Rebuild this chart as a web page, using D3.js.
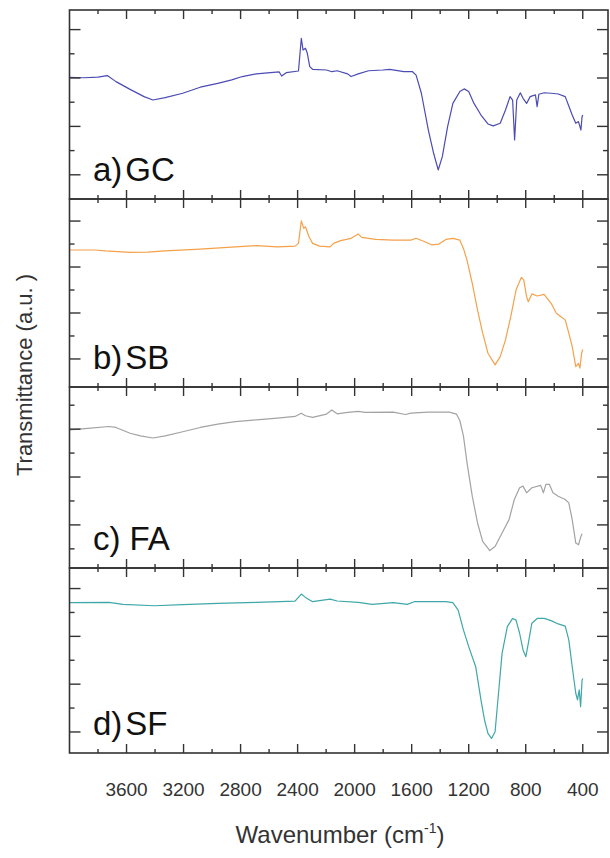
<!DOCTYPE html>
<html>
<head>
<meta charset="utf-8">
<script src="https://cdn.jsdelivr.net/npm/d3@7"></script>
<style>
  body { margin: 0; background: #fff; }
  svg { display: block; font-family: "Liberation Sans", Arial, sans-serif; }
</style>
</head>
<body>
<script>
// x axis
const xTickValues = [3600, 3200, 2800, 2400, 2000, 1600, 1200, 800, 400];
const xMinorValues = [3800, 3400, 3000, 2600, 2200, 1800, 1400, 1000, 600];

// panel labels
const panelLetters = ["a)", "b)", "c)", "d)"];
const sampleNames = ["GC", "SB", "FA", "SF"];

// a) GC
const gcWavenumber = [4000, 3900, 3800, 3735, 3674, 3575, 3477, 3415, 3329, 3206, 3083, 2960, 2862, 2788, 2689, 2591, 2529, 2512, 2480, 2394, 2374, 2362, 2345, 2332, 2315, 2295, 2197, 2160, 2123, 2049, 2025, 1975, 1902, 1803, 1754, 1655, 1594, 1569, 1532, 1483, 1446, 1414, 1385, 1348, 1311, 1262, 1232, 1200, 1163, 1114, 1065, 1028, 979, 942, 910, 892, 878, 863, 838, 819, 794, 769, 732, 720, 708, 671, 622, 572, 523, 498, 474, 449, 430, 413, 405, 400];
const gcT = [5.03, 5.01, 5.04, 5.10, 4.85, 4.53, 4.23, 4.09, 4.19, 4.37, 4.62, 4.78, 4.92, 5.06, 5.17, 5.22, 5.25, 5.08, 5.22, 5.29, 6.64, 6.16, 6.23, 6.02, 5.47, 5.36, 5.33, 5.26, 5.30, 5.17, 5.06, 5.17, 5.30, 5.33, 5.36, 5.26, 5.26, 5.12, 4.37, 2.85, 1.89, 1.20, 1.75, 2.99, 3.95, 4.44, 4.55, 4.44, 3.95, 3.47, 3.10, 3.02, 3.13, 3.68, 4.23, 4.09, 2.44, 4.09, 4.39, 4.16, 3.95, 4.23, 4.30, 3.82, 4.33, 4.39, 4.37, 4.34, 4.23, 3.84, 3.47, 3.13, 3.20, 2.85, 3.40, 3.47];

// b) SB
const sbWavenumber = [4000, 3822, 3748, 3575, 3452, 3329, 3083, 2837, 2689, 2542, 2418, 2394, 2374, 2357, 2345, 2320, 2295, 2246, 2172, 2148, 2098, 2025, 1975, 1951, 1852, 1729, 1606, 1569, 1508, 1458, 1409, 1360, 1311, 1262, 1237, 1212, 1175, 1138, 1102, 1065, 1015, 979, 942, 905, 868, 831, 814, 794, 782, 757, 720, 671, 622, 585, 560, 523, 498, 474, 449, 430, 420, 408, 400];
const sbT = [5.74, 5.74, 5.70, 5.64, 5.65, 5.70, 5.78, 5.88, 5.93, 5.88, 5.91, 6.03, 7.01, 6.68, 6.75, 6.32, 6.03, 5.91, 5.88, 6.03, 6.15, 6.25, 6.44, 6.29, 6.20, 6.17, 6.17, 6.25, 6.10, 5.96, 6.00, 6.20, 6.25, 6.17, 5.81, 5.30, 4.29, 3.13, 2.12, 1.25, 0.74, 1.10, 1.83, 2.84, 4.00, 4.55, 4.44, 3.71, 3.49, 3.83, 3.74, 3.81, 3.42, 2.99, 2.87, 2.70, 2.12, 1.54, 0.67, 0.81, 0.60, 1.25, 1.42];

// c) FA
const faWavenumber = [4000, 3871, 3723, 3674, 3575, 3502, 3415, 3329, 3206, 3083, 2960, 2837, 2689, 2542, 2418, 2374, 2345, 2295, 2197, 2160, 2123, 2049, 1975, 1926, 1729, 1643, 1606, 1483, 1335, 1286, 1262, 1237, 1212, 1175, 1138, 1102, 1052, 1015, 966, 917, 880, 843, 819, 794, 757, 695, 676, 659, 634, 609, 572, 523, 498, 474, 449, 430, 413, 405];
const faT = [5.97, 6.03, 6.11, 6.07, 5.83, 5.72, 5.63, 5.72, 5.89, 6.07, 6.21, 6.31, 6.39, 6.46, 6.53, 6.66, 6.56, 6.49, 6.63, 6.80, 6.64, 6.70, 6.74, 6.70, 6.71, 6.61, 6.67, 6.71, 6.71, 6.63, 6.35, 5.72, 4.60, 3.20, 2.08, 1.31, 0.93, 1.10, 1.66, 2.22, 3.06, 3.55, 3.62, 3.34, 3.55, 3.65, 3.34, 3.69, 3.69, 3.34, 3.20, 3.06, 2.92, 2.22, 1.24, 1.17, 1.52, 1.63];

// d) SF
const sfWavenumber = [4000, 3723, 3625, 3403, 3206, 2960, 2689, 2418, 2374, 2345, 2295, 2172, 2123, 1975, 1877, 1729, 1631, 1582, 1360, 1311, 1274, 1237, 1200, 1151, 1114, 1089, 1065, 1040, 1015, 991, 966, 929, 892, 868, 843, 819, 799, 782, 757, 720, 671, 622, 572, 523, 498, 474, 449, 437, 425, 415, 405, 400];
const sfT = [6.41, 6.42, 6.34, 6.28, 6.33, 6.38, 6.42, 6.47, 6.77, 6.63, 6.45, 6.56, 6.48, 6.42, 6.34, 6.41, 6.34, 6.45, 6.45, 6.41, 6.10, 5.27, 4.57, 3.73, 2.34, 1.50, 0.94, 0.73, 1.01, 2.62, 4.29, 5.41, 5.75, 5.68, 5.13, 4.43, 4.15, 4.71, 5.55, 5.75, 5.75, 5.66, 5.52, 5.43, 4.85, 3.73, 2.62, 2.34, 2.76, 2.06, 3.17, 3.24];

// y ticks (a.u.), same set in every panel
const yTickValues = [1, 2, 3, 4, 5, 6, 7];
const yDomains = [[0, 7.81], [-0.22, 7.96], [0.2, 7.76], [0.12, 7.86]];

const series = [
  { wn: gcWavenumber, t: gcT, color: "#4b4bb4", major: 1 },
  { wn: sbWavenumber, t: sbT, color: "#f4a14a", major: 1 },
  { wn: faWavenumber, t: faT, color: "#a3a3a3", major: 0 },
  { wn: sfWavenumber, t: sfT, color: "#3fa7a7", major: 1 }
];

const width = 610, height = 858;
const left = 69.5, right = 608;
const panelEdges = [10, 199, 387, 568, 753];
const axisColor = "#333";

const svg = d3.select("body").append("svg")
  .attr("width", width)
  .attr("height", height);

const x = d3.scaleLinear().domain([4000, 223]).range([left, right]);

series.forEach((s, i) => {
  const top = panelEdges[i], bottom = panelEdges[i + 1];
  const y = d3.scaleLinear().domain(yDomains[i]).range([bottom, top]);
  const g = svg.append("g");

  // spectrum
  const pts = s.wn.map((w, k) => [w, s.t[k]]);
  g.append("path")
    .datum(pts)
    .attr("fill", "none")
    .attr("stroke", s.color)
    .attr("stroke-width", 1.2)
    .attr("stroke-linejoin", "round")
    .attr("d", d3.line().x(d => x(d[0])).y(d => y(d[1])));

  // y ticks, left and right, pointing inward
  yTickValues.forEach(v => {
    const len = (v % 2 === s.major) ? 11 : 5;
    g.append("line").attr("x1", left).attr("x2", left + len)
      .attr("y1", y(v)).attr("y2", y(v))
      .attr("stroke", axisColor).attr("stroke-width", 1.4);
    g.append("line").attr("x1", right).attr("x2", right - len)
      .attr("y1", y(v)).attr("y2", y(v))
      .attr("stroke", axisColor).attr("stroke-width", 1.4);
  });

  // x ticks, top and bottom, pointing inward
  const xt = xTickValues.map(v => [v, 9]).concat(xMinorValues.map(v => [v, 4]));
  xt.forEach(([v, len]) => {
    g.append("line").attr("x1", x(v)).attr("x2", x(v))
      .attr("y1", bottom).attr("y2", bottom - len)
      .attr("stroke", axisColor).attr("stroke-width", 1.4);
    g.append("line").attr("x1", x(v)).attr("x2", x(v))
      .attr("y1", top).attr("y2", top + len)
      .attr("stroke", axisColor).attr("stroke-width", 1.4);
  });

  // frame
  g.append("rect")
    .attr("x", left).attr("y", top)
    .attr("width", right - left).attr("height", bottom - top)
    .attr("fill", "none")
    .attr("stroke", axisColor)
    .attr("stroke-width", 1.6);

  // panel label
  const label = g.append("text")
    .attr("x", 93)
    .attr("y", bottom - 18)
    .attr("font-size", 33)
    .attr("fill", "#111");
  label.append("tspan").text(panelLetters[i]);
  label.append("tspan").attr("dx", i === 2 ? 9 : 3).text(sampleNames[i]);
});

// x tick labels
svg.append("g")
  .selectAll("text")
  .data(xTickValues)
  .join("text")
  .attr("x", d => x(d))
  .attr("y", 796)
  .attr("text-anchor", "middle")
  .attr("font-size", 19)
  .attr("fill", "#333")
  .text(d => d);

// x title
const xt = svg.append("text")
  .attr("x", 340)
  .attr("y", 843)
  .attr("text-anchor", "middle")
  .attr("font-size", 24)
  .attr("fill", "#333");
xt.append("tspan").text("Wavenumber (cm");
xt.append("tspan").attr("font-size", 14).attr("dy", -10).text("-1");
xt.append("tspan").attr("dy", 10).text(")");

// y title
svg.append("text")
  .attr("transform", "translate(32,375) rotate(-90)")
  .attr("text-anchor", "middle")
  .attr("font-size", 22)
  .attr("fill", "#333")
  .text("Transmittance (a.u. )");
</script>
</body>
</html>
